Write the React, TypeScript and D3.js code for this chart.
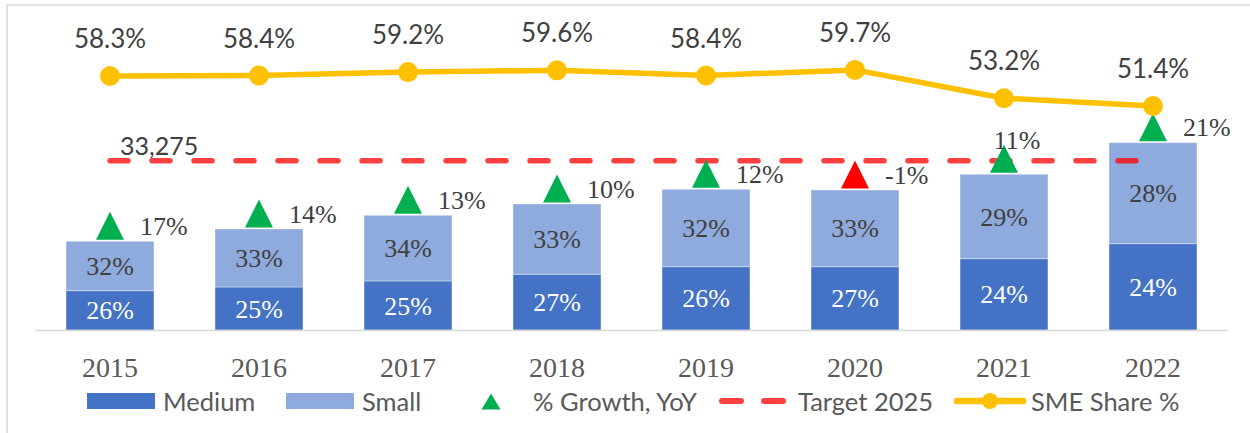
import React from 'react'
import * as d3 from 'd3'

const years = ['2015', '2016', '2017', '2018', '2019', '2020', '2021', '2022']
// lending amounts (bar heights)
const medium = [7730, 8460, 9640, 10960, 12450, 12450, 14030, 16980]
const small = [9720, 11410, 12920, 13830, 15230, 15090, 16600, 19870]
// share labels shown in the bars (%)
const mediumShare = [26, 25, 25, 27, 26, 27, 24, 24]
const smallShare = [32, 33, 34, 33, 32, 33, 29, 28]
const growth = [17, 14, 13, 10, 12, -1, 11, 21]
const smeShare = [58.3, 58.4, 59.2, 59.6, 58.4, 59.7, 53.2, 51.4]
const target = 33275

const W = 1250
const H = 433
const sans = 'Lato, "Open Sans", sans-serif'
const serif = '"Liberation Serif", "Times New Roman", serif'

const x = d3.scaleBand<string>().domain(years).range([35.5, 1227.5]).paddingInner(0.41).paddingOuter(0.205)
const y = d3.scaleLinear().domain([0, 60000]).range([330, 25])
const y2 = d3.scaleLinear().domain([0, 70]).range([330, 25])

const cx = (i: number) => x(years[i])! + x.bandwidth() / 2
const tri = (px: number, base: number, w: number, h: number) =>
  `M${px - w / 2},${base}L${px},${base - h}L${px + w / 2},${base}Z`

export default function App() {
  const line = d3.line<number>().x((_, i) => cx(i)).y(d => y2(d))
  const bw = x.bandwidth()

  return (
    <svg width={W} height={H} style={{ position: 'absolute', left: 0, top: 0, background: '#fff' }}>
      <rect x={7} y={5} width={1260} height={460} fill="#fff" stroke="#d9d9d9" strokeWidth={1.5} />

      {/* bars */}
      {years.map((yr, i) => {
        const x0 = x(yr)!
        const top = y(medium[i] + small[i])
        const mid = y(medium[i])
        return (
          <g key={yr}>
            <rect x={x0} y={mid} width={bw} height={y(0) - mid} fill="#4472C4" stroke="#ffffff" strokeOpacity={0.35} strokeWidth={1} />
            <rect x={x0} y={top} width={bw} height={mid - top} fill="#8FAADC" stroke="#ffffff" strokeOpacity={0.35} strokeWidth={1} />
            <text x={cx(i)} y={(mid + y(0)) / 2} dy="0.35em" textAnchor="middle" fontFamily={serif} fontSize={26} fill="#ffffff">
              {mediumShare[i]}%
            </text>
            <text x={cx(i)} y={(top + mid) / 2} dy="0.35em" textAnchor="middle" fontFamily={serif} fontSize={26} fill="#404040">
              {smallShare[i]}%
            </text>
            <text x={cx(i)} y={367} dy="0.35em" textAnchor="middle" fontFamily={serif} fontSize={28} fill="#595959">
              {yr}
            </text>
          </g>
        )
      })}

      {/* axis line */}
      <line x1={35} x2={1228} y1={330.5} y2={330.5} stroke="#d9d9d9" strokeWidth={1.5} />

      {/* target line */}
      <line x1={cx(0)} x2={cx(years.length - 1)} y1={y(target)} y2={y(target)}
        stroke="#FF0000" strokeOpacity={0.75} strokeWidth={5.5} strokeLinecap="round" strokeDasharray="18 24" />
      <text x={120} y={146} dy="0.35em" fontFamily={sans} fontSize={25} fill="#404040">
        {d3.format(',')(target)}
      </text>

      {/* growth triangles */}
      {growth.map((g, i) => {
        const base = y(medium[i] + small[i]) - 1.5
        const above = i === 6
        return (
          <g key={'g' + i}>
            <path d={tri(cx(i), base, 28, 28)} fill={g < 0 ? '#FF0000' : '#00B050'} />
            <text x={above ? cx(i) + 13 : cx(i) + 30} y={above ? base - 33 : base - 14} dy="0.35em"
              textAnchor={above ? 'middle' : 'start'} fontFamily={serif} fontSize={26} fill="#404040">
              {g}%
            </text>
          </g>
        )
      })}

      {/* SME share line */}
      <path d={line(smeShare)!} fill="none" stroke="#FFC000" strokeWidth={5.5} strokeLinejoin="round" />
      {smeShare.map((v, i) => (
        <g key={'s' + i}>
          <circle cx={cx(i)} cy={y2(v)} r={10} fill="#FFC000" />
          <text x={cx(i)} y={y2(v) - 37} dy="0.35em" textAnchor="middle" fontFamily={sans} fontSize={26} fill="#404040">
            {v.toFixed(1)}%
          </text>
        </g>
      ))}

      {/* legend */}
      <g fontFamily={sans} fontSize={25.5} fill="#595959">
        <rect x={87} y={393} width={68} height={16} fill="#4472C4" />
        <text x={163} y={401} dominantBaseline="central">Medium</text>
        <rect x={286} y={393} width={68} height={16} fill="#8FAADC" />
        <text x={362} y={401} dominantBaseline="central">Small</text>
        <path d={tri(491, 409.5, 19, 16)} fill="#00B050" />
        <text x={533} y={401} dominantBaseline="central">% Growth, YoY</text>
        <line x1={722} x2={741} y1={401} y2={401} stroke="#FF0000" strokeOpacity={0.75} strokeWidth={6} strokeLinecap="round" />
        <line x1={764} x2={783} y1={401} y2={401} stroke="#FF0000" strokeOpacity={0.75} strokeWidth={6} strokeLinecap="round" />
        <text x={798} y={401} dominantBaseline="central">Target 2025</text>
        <line x1={957} x2={1023} y1={401} y2={401} stroke="#FFC000" strokeWidth={6.5} strokeLinecap="round" />
        <circle cx={990} cy={401} r={8} fill="#FFC000" />
        <text x={1031} y={401} dominantBaseline="central">SME Share %</text>
      </g>
    </svg>
  )
}
